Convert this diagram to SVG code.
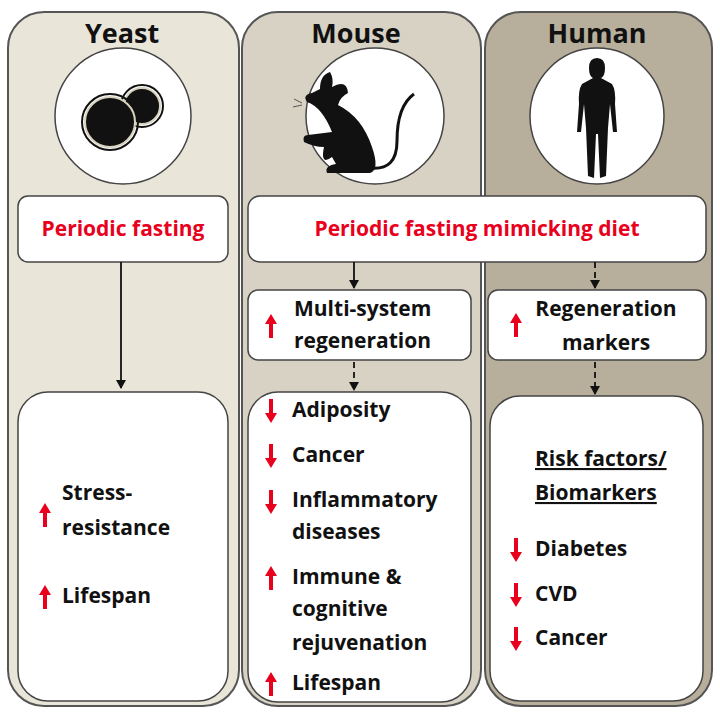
<svg xmlns="http://www.w3.org/2000/svg" width="720" height="720" viewBox="0 0 720 720">
<defs>
<style>
.col{stroke:#555;stroke-width:2}
.box{fill:#fff;stroke:#444;stroke-width:1.5}
.t{font-family:"Open Sans","Liberation Sans",sans-serif;font-weight:bold;fill:#111}
.h{font-size:27px;text-anchor:middle}
.b{font-size:21px}
.r{fill:#e8001c;font-size:21px;text-anchor:middle}
.ln{stroke:#111;stroke-width:1.8;fill:none}
.d{stroke-dasharray:6,4}
</style>
<marker id="ah" markerWidth="10" markerHeight="10" refX="8" refY="5" orient="auto" markerUnits="userSpaceOnUse"><path d="M0,0 L9,5 L0,10 Z" fill="#111"/></marker>
<g id="up"><path d="M0,-12 L-6,-2 L-2,-2 L-2,12 L2,12 L2,-2 L6,-2 Z" fill="#e8001c"/></g>
<g id="dn"><path d="M0,12 L-6,2 L-2,2 L-2,-12 L2,-12 L2,2 L6,2 Z" fill="#e8001c"/></g>
</defs>
<rect width="720" height="720" fill="#fff"/>
<g id="yeast">
<rect class="col" x="8" y="12" width="231" height="694" rx="36" fill="#e9e5d9"/>
<text class="t h" x="122" y="43">Yeast</text>
<ellipse cx="123" cy="116" rx="68" ry="68" fill="#fff" stroke="#444" stroke-width="1.5"/>
<circle cx="142" cy="106" r="18" fill="#111" stroke="#d8d3c0" stroke-width="2"/>
<circle cx="142" cy="106" r="21" fill="none" stroke="#111" stroke-width="2"/>
<circle cx="110" cy="122" r="25" fill="#111" stroke="#d8d3c0" stroke-width="2"/>
<circle cx="110" cy="122" r="28" fill="none" stroke="#111" stroke-width="2"/>
</g>
<g id="mouse">
<rect class="col" x="242" y="12" width="239" height="694" rx="36" fill="#d7d2c3"/>
<text class="t h" x="356" y="43">Mouse</text>
<ellipse cx="375" cy="116" rx="69" ry="68" fill="#fff" stroke="#444" stroke-width="1.5"/>
<path d="M304,142 Q302,135 308,135 L332,132 Q322,107 307,102 Q302,95 312,93 L320,89 Q320,75 330,72 Q334,79 332,87 Q347,79 348,93 Q340,97 338,105 Q362,117 372,147 Q380,170 370,173 L327,173 Q324,166 336,164 L332,157 Q320,166 324,147 Q314,147 304,142 Z" fill="#111"/>
<path d="M370,168 Q397,171 397,141 Q397,106 414,94" fill="none" stroke="#111" stroke-width="3"/>
<path d="M302,103 L294,99 M302,105 L293,107" stroke="#555" stroke-width="1"/>
</g>
<g id="human">
<rect class="col" x="485" y="12" width="227" height="694" rx="36" fill="#b7af9b"/>
<text class="t h" x="597" y="43">Human</text>
<ellipse cx="597" cy="116" rx="67" ry="68" fill="#fff" stroke="#444" stroke-width="1.5"/>
<path d="M597,58 Q605,58 605,68 Q605,76 601,78 L612,84 Q616,90 615,104 L617,132 L613,132 L610,104 L608,128 L606,176 L600,178 L598,134 L596,134 L594,178 L588,176 L586,128 L584,104 L581,132 L577,132 L579,104 Q578,90 582,84 L593,78 Q589,76 589,68 Q589,58 597,58 Z" fill="#111"/>
</g>
<g id="pf"><rect class="box" x="18" y="196" width="210" height="66" rx="10"/><text class="t r" x="123" y="236">Periodic fasting</text></g>
<g id="pfmd"><rect class="box" x="248" y="196" width="458" height="66" rx="12"/><text class="t r" x="477" y="236">Periodic fasting mimicking diet</text></g>
<g id="msr"><rect class="box" x="248" y="290" width="223" height="70" rx="10"/>
<use href="#up" x="271" y="326"/><text class="t b" x="294" y="316">Multi-system</text><text class="t b" x="294" y="348">regeneration</text></g>
<g id="rm"><rect class="box" x="488" y="290" width="218" height="70" rx="10"/>
<use href="#up" x="516" y="325"/><text class="t b" x="606" y="316" text-anchor="middle">Regeneration</text><text class="t b" x="606" y="350" text-anchor="middle">markers</text></g>
<g id="yo"><rect class="box" x="18" y="392" width="210" height="309" rx="30"/>
<use href="#up" x="45" y="515"/><text class="t b" x="62" y="500">Stress-</text><text class="t b" x="62" y="535">resistance</text>
<use href="#up" x="45" y="597"/><text class="t b" x="62" y="603">Lifespan</text></g>
<g id="mo"><rect class="box" x="248" y="392" width="223" height="310" rx="30"/>
<use href="#dn" x="271" y="411"/><text class="t b" x="292" y="417">Adiposity</text>
<use href="#dn" x="271" y="456"/><text class="t b" x="292" y="462">Cancer</text>
<use href="#dn" x="271" y="502"/><text class="t b" x="292" y="507">Inflammatory</text><text class="t b" x="292" y="539">diseases</text>
<use href="#up" x="271" y="578"/><text class="t b" x="292" y="584">Immune &amp;</text><text class="t b" x="292" y="616">cognitive</text><text class="t b" x="292" y="650">rejuvenation</text>
<use href="#up" x="271" y="684"/><text class="t b" x="292" y="690">Lifespan</text></g>
<g id="ho"><rect class="box" x="490" y="396" width="213" height="305" rx="30"/>
<text class="t b" x="535" y="466" text-decoration="underline">Risk factors/</text><text class="t b" x="535" y="500" text-decoration="underline">Biomarkers</text>
<use href="#dn" x="516" y="550"/><text class="t b" x="535" y="556">Diabetes</text>
<use href="#dn" x="516" y="595"/><text class="t b" x="535" y="601">CVD</text>
<use href="#dn" x="516" y="639"/><text class="t b" x="535" y="645">Cancer</text></g>
<g id="connectors">
<line class="ln" x1="121" y1="262" x2="121" y2="388" marker-end="url(#ah)"/>
<line class="ln" x1="354" y1="262" x2="354" y2="288" marker-end="url(#ah)"/>
<line class="ln d" x1="354" y1="362" x2="354" y2="390" marker-end="url(#ah)"/>
<line class="ln d" x1="595" y1="262" x2="595" y2="288" marker-end="url(#ah)"/>
<line class="ln d" x1="595" y1="362" x2="595" y2="394" marker-end="url(#ah)"/>
</g>
</svg>
